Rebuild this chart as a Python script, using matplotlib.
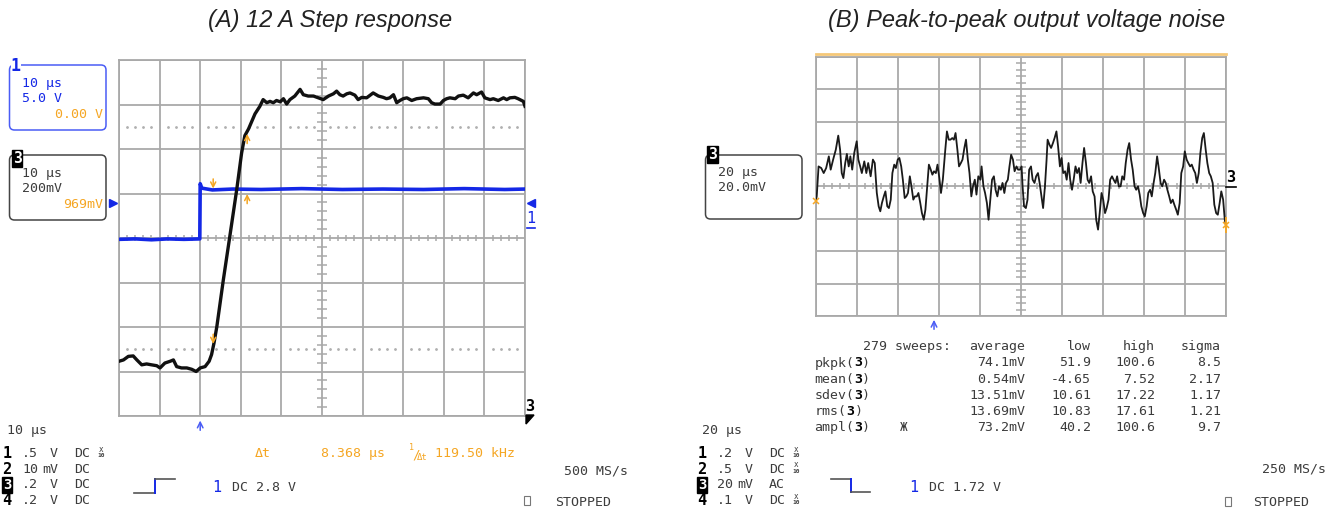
import numpy as np
import matplotlib.pyplot as plt
from matplotlib.patches import FancyBboxPatch, Polygon, Rectangle
from matplotlib.lines import Line2D
from matplotlib.transforms import IdentityTransform

# ---------------- (A) 12 A step response: 10 us/div, values in screen divisions
step_t_ch3 = [-20, -18.9, -17.7, -16.5, -15.6, -14.4, -13.2, -12.0, -10.7, -9.9, -8.7, -7.4,
              -6.6, -5.8, -4.6, -3.3, -2.1, -1.0, 0.0, 1.2, 2.2, 2.8, 3.4, 4.1, 5.7, 7.3, 9.0,
              10.2, 11.0, 11.9, 13.5, 14.7, 15.5, 16.4, 17.2, 18.0, 18.8, 19.7, 20.5, 21.3, 22.1,
              23.3, 24.6, 25.4, 26.6, 27.9, 29.1, 30.3, 31.6, 32.8, 33.6, 34.4, 35.2, 36.1, 36.9,
              38.1, 38.9, 39.8, 41.0, 42.6, 43.9, 45.1, 45.9, 46.7, 47.6, 48.4, 49.2, 50.0, 50.9,
              52.1, 53.3, 55.0, 56.2, 57.0, 57.8, 59.1, 59.9, 60.7, 61.5, 62.8, 63.6, 64.8, 66.0,
              67.3, 68.1, 69.3, 70.1, 71.4, 72.2, 73.4, 74.7, 75.5, 76.3, 77.5, 78.3, 79.6, 80.0]
step_v_ch3 = [-2.77, -2.74, -2.66, -2.65, -2.74, -2.85, -2.83, -2.85, -2.87, -2.92, -2.81, -2.77,
              -2.74, -2.89, -2.92, -2.92, -2.95, -3.00, -2.92, -2.89, -2.77, -2.62, -2.36, -1.99,
              -0.94, 0.04, 1.09, 1.91, 2.30, 2.45, 2.79, 2.96, 3.11, 3.04, 3.07, 3.04, 3.09, 3.06,
              3.13, 3.01, 3.11, 3.19, 3.34, 3.22, 3.19, 3.19, 3.15, 3.11, 3.19, 3.24, 3.30, 3.22,
              3.19, 3.24, 3.26, 3.21, 3.11, 3.16, 3.15, 3.26, 3.19, 3.16, 3.13, 3.15, 3.22, 3.04,
              3.09, 3.13, 3.15, 3.09, 3.13, 3.15, 3.13, 3.04, 3.01, 3.01, 3.09, 3.13, 3.15, 3.13,
              3.19, 3.21, 3.15, 3.26, 3.22, 3.28, 3.15, 3.11, 3.13, 3.09, 3.15, 3.11, 3.15, 3.16,
              3.13, 3.07, 2.96]
step_t_ch1 = [-20, -16, -12, -8, -4, -0.1, 0.0, 0.4, 3, 8, 15, 25, 35, 45, 55, 65, 75, 80]
step_v_ch1 = [-0.03, -0.02, -0.04, -0.02, -0.03, -0.02, 1.22, 1.12, 1.08, 1.10, 1.09, 1.11,
              1.09, 1.10, 1.09, 1.11, 1.09, 1.10]
cursor_t1 = 3.2          # us
cursor_dt = 8.368        # us
cursor_lo, cursor_hi = -2.44, 2.40
cursor_ch1 = 1.05
ch1_offset = 0.79

# ---------------- (B) output noise: 20 us/div, 20 mV/div
noise_t = [0.0, 0.5, 1.4, 2.7, 3.9, 5.1, 6.4, 7.3, 8.5, 9.8, 11.0, 11.9, 12.7, 13.5, 14.4, 15.2,
           16.1, 16.9, 17.8, 18.8, 20.0, 20.8, 21.7, 22.5, 23.7, 24.7, 25.6, 26.8, 27.9, 28.8,
           29.8, 30.7, 31.5, 32.3, 33.2, 34.0, 34.9, 35.7, 36.6, 37.4, 38.3, 39.1, 40.0, 40.8,
           41.7, 42.5, 43.4, 44.2, 45.0, 45.9, 46.7, 47.6, 48.4, 49.3, 50.1, 51.0, 51.8, 52.7,
           53.5, 54.4, 55.2, 56.1, 56.9, 57.7, 58.6, 59.4, 60.3, 61.1, 62.0, 63.2, 64.0, 64.9,
           65.7, 66.6, 67.4, 68.2, 69.1, 69.9, 70.8, 71.6, 72.5, 73.3, 74.2, 75.0, 75.9, 76.7,
           77.6, 78.4, 79.3, 80.3, 80.9, 81.8, 82.6, 83.5, 84.3, 85.2, 86.0, 86.9, 87.7, 88.6,
           89.4, 90.3, 91.1, 92.0, 92.8, 93.7, 94.5, 95.3, 96.2, 97.0, 97.9, 98.7, 99.6, 100.4,
           100.9, 101.6, 102.5, 103.3, 104.1, 105.0, 105.8, 106.7, 107.5, 108.4, 109.2, 110.1,
           110.9, 111.8, 112.6, 113.1, 114.0, 114.8, 115.7, 116.5, 117.4, 118.2, 119.1, 119.9,
           120.7, 121.6, 122.4, 123.3, 124.1, 125.0, 125.8, 126.7, 127.5, 128.4, 129.2, 130.1,
           130.9, 131.8, 132.6, 133.4, 134.3, 135.1, 136.0, 136.8, 137.7, 138.5, 139.4, 140.2,
           141.1, 141.9, 142.8, 143.6, 144.5, 145.3, 146.2, 147.0, 147.8, 148.7, 149.5, 150.4,
           151.2, 152.1, 152.9, 153.8, 154.6, 155.5, 156.3, 157.2, 158.0, 158.8, 159.7, 160.5,
           161.4, 162.2, 163.1, 163.9, 164.8, 165.6, 166.5, 167.3, 168.2, 169.0, 169.9, 170.7,
           171.5, 172.4, 173.2, 174.1, 174.9, 175.8, 176.6, 177.5, 178.3, 179.2, 180.0, 180.9,
           181.7, 182.6, 183.4, 184.3, 185.1, 185.9, 186.8, 187.6, 188.5, 189.3, 190.2, 191.0,
           191.9, 192.7, 193.6, 194.4, 195.3, 196.1, 197.0, 197.8, 198.7, 199.5, 200.0]
noise_mv = [-9.3, -6.2, 12.3, 11.3, 8.2, 11.3, 18.5, 10.3, 16.5, 22.6, 31.3, 22.6, 8.2, 5.1, 14.4,
            20.0, 12.3, 18.5, 10.3, 20.6, 27.8, 16.5, 12.3, 8.2, 15.4, 8.2, 14.4, 6.2, 16.5, 14.4,
            -4.1, -12.3, -15.4, -10.3, -6.2, -3.1, -12.3, -13.4, -8.2, 8.2, 13.4, 11.3, 16.5, 17.5,
            12.3, 4.1, -7.2, -6.2, -4.1, 6.2, 0.0, -8.2, -6.2, -6.2, -4.1, -10.3, -16.5, -20.6,
            -14.4, 0.0, 13.4, 10.3, 7.2, 9.3, 8.2, 13.4, 5.1, -4.1, 4.1, 22.6, 33.9, 28.8, 28.8,
            29.8, 28.8, 32.9, 22.6, 12.3, 14.4, 16.5, 23.7, 28.8, 16.5, 8.2, -6.2, 0.0, 4.1, -5.1,
            6.2, 4.1, 12.3, 0.0, -4.1, -10.3, -20.6, -7.2, 4.1, 6.2, -2.1, -6.2, 0.0, -2.1, 2.1,
            -4.1, 2.1, 4.1, 12.3, 19.5, 16.5, 9.3, 12.3, 10.3, 10.3, 12.3, 0.0, -12.3, -13.4, -8.2,
            10.3, 12.3, 4.1, 2.1, 6.2, 8.2, 2.1, -6.2, -13.4, 0.0, 16.5, 28.8, 25.7, 23.7, 26.7,
            29.8, 33.9, 24.7, 12.3, 17.5, 8.2, 9.3, 4.1, 14.4, 4.1, -2.1, 4.1, 12.3, 8.2, 11.3,
            2.1, 14.4, 23.7, 14.4, 4.1, 2.1, 6.2, -3.1, -6.2, -20.6, -26.7, -16.5, -4.1, -8.2,
            -16.5, -13.4, -8.2, 4.1, 6.2, 4.1, 2.1, 6.2, 0.0, 0.0, 6.2, 4.1, 14.4, 22.6, 26.7,
            16.5, 10.3, 0.0, -2.1, 0.0, -5.1, -12.3, -16.5, -18.5, -12.3, -4.1, -2.1, -6.2, 2.1,
            8.2, 18.5, 11.3, 2.1, 0.0, 4.1, 2.1, -2.1, -6.2, -10.3, -8.2, -11.3, -14.4, -17.5,
            -10.3, 8.2, 12.3, 21.6, 16.5, 14.4, 12.3, 13.4, 10.3, 8.2, 2.1, 8.2, 20.6, 29.8, 32.9,
            22.6, 14.4, 8.2, 6.2, 2.1, -11.3, -16.5, -17.5, -10.3, -3.1, -8.2, -20.6, -23.7]
noise_trig_t = 57.7

stat_names = ['pkpk', 'mean', 'sdev', 'rms', 'ampl']
stat_avg = ['74.1mV', '0.54mV', '13.51mV', '13.69mV', '73.2mV']
stat_low = ['51.9', '-4.65', '10.61', '10.83', '40.2']
stat_high = ['100.6', '7.52', '17.22', '17.61', '100.6']
stat_sigma = ['8.5', '2.17', '1.17', '1.21', '9.7']

rows_a = [('1', '.5', 'V', 'DC', True), ('2', '10', 'mV', 'DC', False),
          ('3', '.2', 'V', 'DC', False), ('4', '.2', 'V', 'DC', False)]
rows_b = [('1', '.2', 'V', 'DC', True), ('2', '.5', 'V', 'DC', True),
          ('3', '20', 'mV', 'AC', False), ('4', '.1', 'V', 'DC', True)]

# ---------------- styling
W, H = 1336, 509
GRID = '#a9a9a9'
BLUE = '#1428e6'
LBLUE = '#4a5cf5'
ORANGE = '#f5a623'
TXT = '#3c3c3c'
MONO = 'DejaVu Sans Mono'
FS = 9.5

fig = plt.figure(figsize=(W / 100, H / 100), dpi=100)
fig.patch.set_facecolor('white')
PIX = IdentityTransform()


def txt(x, y, s, color=TXT, size=FS, ha='left', **kw):
    return fig.text(x / W, 1 - y / H, s, color=color, fontsize=size, ha=ha,
                    va='center_baseline', family=MONO, **kw)


def pline(xs, ys, color, lw=1.0):
    fig.add_artist(Line2D(xs, [H - y for y in ys], transform=PIX, color=color, lw=lw))


def pbox(x0, y0, x1, y1, color):
    fig.add_artist(FancyBboxPatch((x0, H - y1), x1 - x0, y1 - y0,
                                  boxstyle='round,pad=0,rounding_size=5', transform=PIX,
                                  fill=False, ec=color, lw=1.1))


def inv3(x, y, size=10.5):
    txt(x, y, '3', color='white', size=size, ha='center', fontweight='bold',
        bbox=dict(fc='black', ec='black', pad=0.6))


def scope_axes(left, top, right, bottom, xlim, ylim, xstep, ystep):
    ax = fig.add_axes([left / W, 1 - bottom / H, (right - left) / W, (bottom - top) / H])
    ax.set_xlim(xlim)
    ax.set_ylim(ylim)
    ax.set_xticks(np.arange(xlim[0], xlim[1] + xstep / 2, xstep))
    ax.set_yticks(np.arange(ylim[0], ylim[1] + ystep / 2, ystep))
    ax.tick_params(length=0, labelbottom=False, labelleft=False)
    ax.grid(True, color=GRID, lw=1.3)
    ax.set_axisbelow(True)
    for s in ax.spines.values():
        s.set_color(GRID)
        s.set_linewidth(1.3)
    xc = (xlim[0] + xlim[1]) / 2
    yc = (ylim[0] + ylim[1]) / 2
    xm = np.arange(xlim[0], xlim[1] + 1e-9, xstep / 5)
    xm = xm[np.abs((xm - xlim[0]) / xstep - np.round((xm - xlim[0]) / xstep)) > 1e-6]
    ym = np.arange(ylim[0], ylim[1] + 1e-9, ystep / 5)
    ym = ym[np.abs((ym - ylim[0]) / ystep - np.round((ym - ylim[0]) / ystep)) > 1e-6]
    ax.plot(xm, np.full_like(xm, yc), ls='none', marker='|', ms=5, mew=1.1, color=GRID, zorder=1)
    ax.plot(np.full_like(ym, xc), ym, ls='none', marker='_', ms=7, mew=1.1, color=GRID, zorder=1)
    return ax


def channel_rows(x0, rows):
    for i, (num, val, unit, cpl, probe) in enumerate(rows):
        y = 452 + i * 15.7
        if num == '3':
            inv3(x0 + 4, y, size=10)
        else:
            txt(x0 + 4, y, num, color='black', size=11, ha='center', fontweight='bold')
        txt(x0 + 35, y, val, ha='right')
        txt(x0 + 55, y, unit, ha='right')
        txt(x0 + 71, y, cpl)
        if probe:
            txt(x0 + 98, y - 4, 'x', size=5.5, ha='center')
            txt(x0 + 98, y + 3, '10', size=4.5, ha='center', fontweight='bold')


# ================= (A) =================
axA = scope_axes(119, 60, 525, 416, (-20, 80), (-4, 4), 10, 1)
dots = np.arange(-20, 80.01, 2.0)
dots = dots[np.abs(dots / 10 - np.round(dots / 10)) > 1e-6]
for lvl in (2.5, -2.5):
    axA.plot(dots, np.full_like(dots, lvl), ls='none', marker='o', ms=1.0, color='#b0b0b0', zorder=1)
axA.plot(step_t_ch1, step_v_ch1, color=BLUE, lw=2.6, zorder=3)
axA.plot(step_t_ch3, step_v_ch3, color='#111111', lw=2.4, zorder=4)

t2 = cursor_t1 + cursor_dt
arr = dict(arrowstyle='->,head_length=0.35,head_width=0.18', color=ORANGE, lw=1.1)
for tx, head, tail in [(cursor_t1, cursor_lo, cursor_lo + 0.34), (t2, cursor_hi, cursor_hi - 0.34),
                       (cursor_t1, cursor_ch1, cursor_ch1 + 0.34), (t2, cursor_ch1, cursor_ch1 - 0.34)]:
    axA.annotate('', xy=(tx, head), xytext=(tx, tail), arrowprops=arr, zorder=6)

barr = dict(arrowstyle='->,head_length=0.4,head_width=0.2', color=LBLUE, lw=1.1)
axA.annotate('', xy=(0, -0.005), xycoords=('data', 'axes fraction'), xytext=(0, -0.048),
             textcoords=('data', 'axes fraction'), arrowprops=barr, annotation_clip=False)
axA.plot([-21.5], [ch1_offset], marker='>', ms=5.5, color=BLUE, clip_on=False)
axA.plot([81.5], [ch1_offset], marker='<', ms=5.5, color=BLUE, clip_on=False)
txt(531, 217, '1', color=BLUE, size=11, ha='center')
pline([527, 535], [228, 228], BLUE, 1.2)
txt(530, 405, '3', color='black', size=11, ha='center', fontweight='bold')
fig.add_artist(Polygon([(526, H - 415), (534, H - 415), (526, H - 424)], closed=True,
                       transform=PIX, color='black'))

fig.text(330 / W, 1 - 20 / H, '(A) 12 A Step response', ha='center', va='center',
         fontsize=17, style='italic', family='Liberation Sans', color='#222222')

# channel boxes
pbox(9.5, 65, 106, 130, LBLUE)
txt(16, 64, '1', color=BLUE, size=12, ha='center', fontweight='bold',
    bbox=dict(fc='white', ec='none', pad=0.2))
txt(22, 82, '10 µs', color=BLUE)
txt(22, 97, '5.0 V', color=BLUE)
txt(103, 113, '0.00 V', color=ORANGE, ha='right')

pbox(9.5, 155, 106, 220, '#444444')
inv3(17, 157)
txt(22, 172, '10 µs')
txt(22, 187, '200mV')
txt(103, 203, '969mV', color=ORANGE, ha='right')

# bottom read-outs
txt(7, 429, '10 µs')
channel_rows(3, rows_a)
txt(255, 452, 'Δt', color=ORANGE)
txt(321, 452, '8.368 µs', color=ORANGE)
txt(409, 447, '1', color=ORANGE, size=6)
txt(412, 453, '/', color=ORANGE, size=9)
txt(417, 457, 'Δt', color=ORANGE, size=6.5)
txt(435, 452, '119.50 kHz', color=ORANGE)
txt(628, 469, '500 MS/s', ha='right')
pline([134, 154.5], [493, 493], '#555555', 1.2)
pline([154.5, 154.5], [493, 479], BLUE, 1.4)
pline([154.5, 175], [479, 479], '#555555', 1.2)
txt(217, 486, '1', color=BLUE, size=11, ha='center')
txt(232, 486, 'DC 2.8 V')
fig.add_artist(Rectangle((524, H - 505), 6, 9, transform=PIX, fill=False, ec='#777777', lw=0.8))
txt(555, 501, 'STOPPED')

# ================= (B) =================
axB = scope_axes(815.7, 56.7, 1225.8, 316, (0, 200), (-80, 80), 20, 20)
axB.plot(noise_t, noise_mv, color='#1a1a1a', lw=1.3, zorder=3)
axB.plot([noise_t[0], noise_t[-1]], [noise_mv[0], noise_mv[-1]], ls='none', marker='x',
         ms=5, mew=1.1, color=ORANGE, zorder=5, clip_on=False)
axB.plot([noise_t[-1]], [noise_mv[-1]], ls='none', marker='|', ms=12, mew=1.3, color=ORANGE,
         zorder=5, clip_on=False)
axB.plot([0, 1], [1.012, 1.012], transform=axB.transAxes, color='#f5c878', lw=2, clip_on=False)
axB.annotate('', xy=(noise_trig_t, -0.004), xycoords=('data', 'axes fraction'),
             xytext=(noise_trig_t, -0.062), textcoords=('data', 'axes fraction'),
             arrowprops=barr, annotation_clip=False)
txt(1231, 176, '3', color='black', size=11, ha='center', fontweight='bold')
pline([1226, 1236], [187, 187], 'black', 1.2)

fig.text(1027 / W, 1 - 20 / H, '(B) Peak-to-peak output voltage noise', ha='center',
         va='center', fontsize=17, style='italic', family='Liberation Sans', color='#222222')

pbox(705.5, 155, 802, 219, '#444444')
inv3(712.5, 153)
txt(718, 171, '20 µs')
txt(718, 186, '20.0mV')

# measurement table
txt(951, 345, '279 sweeps:', ha='right')
for lab, xr in [('average', 1025), ('low', 1091), ('high', 1155), ('sigma', 1221)]:
    txt(xr, 345, lab, ha='right')
cw = FS * 0.602 * 100 / 72
for i, name in enumerate(stat_names):
    y = 361.5 + i * 16.2
    x0 = 814.5
    txt(x0, y, name + '(')
    txt(x0 + (len(name) + 1) * cw, y, '3', color='black', fontweight='bold')
    txt(x0 + (len(name) + 2) * cw, y, ')')
    txt(1025, y, stat_avg[i], ha='right')
    txt(1091, y, stat_low[i], ha='right')
    txt(1155, y, stat_high[i], ha='right')
    txt(1221, y, stat_sigma[i], ha='right')
txt(900, 426, 'Ж', size=9)

txt(702, 429, '20 µs')
channel_rows(698, rows_b)
txt(1326, 467, '250 MS/s', ha='right')
pline([831, 851], [479, 479], '#555555', 1.2)
pline([851, 851], [479, 492], BLUE, 1.4)
pline([851, 870], [492, 492], '#555555', 1.2)
txt(914, 486, '1', color=BLUE, size=11, ha='center')
txt(929, 486, 'DC 1.72 V')
fig.add_artist(Rectangle((1225, H - 506), 6, 9, transform=PIX, fill=False, ec='#777777', lw=0.8))
txt(1253, 501, 'STOPPED')

fig.savefig('out.png', dpi=100, facecolor='white')
